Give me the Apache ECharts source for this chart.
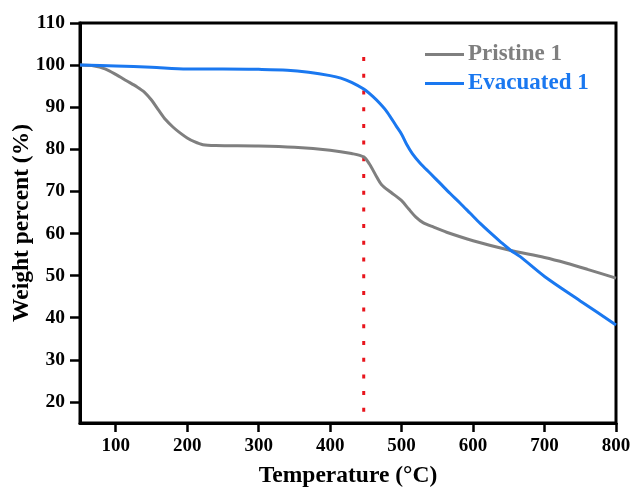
<!DOCTYPE html>
<html>
<head>
<meta charset="utf-8">
<script src="https://cdn.jsdelivr.net/npm/echarts@6/dist/echarts.min.js"></script>
<style>
  html, body { margin: 0; padding: 0; background: #fff; }
  #chart { width: 633px; height: 489px; }
</style>
</head>
<body>
<div id="chart"></div>
<script>
// TGA curves: temperature (°C) vs. remaining weight (%)
const pristineTemp = [50, 70, 85, 100, 115, 130, 140, 150, 160, 170, 180, 190, 200, 210, 222, 240, 300, 350, 400, 430, 447, 455, 465, 472, 485, 500, 510, 520, 530, 545, 563, 600, 650, 700, 730, 760, 800];
const pristineWeight = [100, 99.8, 99.1, 97.8, 96.3, 94.8, 93.6, 91.7, 89.3, 87.0, 85.3, 83.9, 82.7, 81.8, 81.1, 80.9, 80.8, 80.5, 79.8, 79.0, 78.2, 76.5, 73.5, 71.6, 69.8, 67.8, 65.8, 63.9, 62.6, 61.5, 60.3, 58.3, 56.1, 54.3, 53.0, 51.5, 49.4];

const evacuatedTemp = [50, 100, 150, 200, 250, 300, 340, 370, 400, 415, 430, 447, 460, 470, 480, 493, 500, 507, 515, 526, 540, 554, 568, 582, 596, 610, 624, 638, 652, 666, 700, 750, 800];
const evacuatedWeight = [100, 99.8, 99.5, 99.1, 99.1, 99.0, 98.8, 98.3, 97.5, 96.9, 95.9, 94.3, 92.5, 90.8, 88.8, 85.4, 83.6, 81.2, 79.0, 76.7, 74.3, 71.9, 69.5, 67.2, 64.8, 62.4, 60.2, 58.1, 56.1, 54.5, 49.8, 44.0, 38.3];

// Vertical guide at the onset temperature
const onsetTemp = [447, 447];
const onsetRange = [101.9, 15];

const xTicks = [100, 200, 300, 400, 500, 600, 700, 800];
const yTicks = [20, 30, 40, 50, 60, 70, 80, 90, 100, 110];

const seriesNames = ['Pristine 1', 'Evacuated 1'];
const GRAY = '#7f7f7f';
const BLUE = '#1a78f0';
const FONT = '"Liberation Serif", "Times New Roman", serif';

const zip = (a, b) => a.map((v, i) => [v, b[i]]);

const chart = echarts.init(document.getElementById('chart'), null, { renderer: 'canvas' });

chart.setOption({
  backgroundColor: '#fff',
  animation: false,
  grid: {
    left: 80, right: 17, top: 23, bottom: 66,
    containLabel: false,
    outerBoundsMode: 'none',
    show: true, borderColor: '#000', borderWidth: 3, backgroundColor: 'transparent'
  },
  legend: {
    data: [
      { name: seriesNames[0], textStyle: { color: GRAY } },
      { name: seriesNames[1], textStyle: { color: BLUE } }
    ],
    orient: 'vertical',
    left: 420,
    top: 38,
    itemWidth: 39,
    itemHeight: 3,
    itemGap: 6,
    icon: 'rect',
    textStyle: { fontFamily: FONT, fontWeight: 'bold', fontSize: 23, padding: [0, 0, 0, -1] }
  },
  xAxis: {
    type: 'value',
    min: 50, max: 800,
    name: 'Temperature (°C)',
    nameLocation: 'middle',
    nameGap: 41,
    nameMoveOverlap: false,
    nameTextStyle: { fontFamily: FONT, fontWeight: 'bold', fontSize: 23.5, color: '#000' },
    axisLine: { show: true, onZero: false, lineStyle: { color: '#000', width: 3 } },
    axisTick: { show: true, inside: false, length: 9, customValues: xTicks, lineStyle: { color: '#000', width: 2.5 } },
    axisLabel: { customValues: xTicks, margin: 14, fontFamily: FONT, fontWeight: 'bold', fontSize: 19, color: '#000' },
    splitLine: { show: false }
  },
  yAxis: {
    type: 'value',
    min: 15, max: 110,
    name: 'Weight percent (%)',
    nameLocation: 'middle',
    nameGap: 46,
    nameRotate: 90,
    nameMoveOverlap: false,
    nameTextStyle: { fontFamily: FONT, fontWeight: 'bold', fontSize: 23.5, color: '#000' },
    axisLine: { show: true, onZero: false, lineStyle: { color: '#000', width: 3 } },
    axisTick: { show: true, inside: false, length: 10, customValues: yTicks, lineStyle: { color: '#000', width: 2.5 } },
    axisLabel: { customValues: yTicks, margin: 15, fontFamily: FONT, fontWeight: 'bold', fontSize: 19.5, color: '#000' },
    splitLine: { show: false }
  },
  series: [
    {
      name: 'onset',
      type: 'line',
      data: zip(onsetTemp, onsetRange),
      showSymbol: false,
      silent: true,
      z: 1,
      lineStyle: { color: '#e8141c', width: 3, type: [4, 12.7] }
    },
    {
      name: seriesNames[0],
      type: 'line',
      data: zip(pristineTemp, pristineWeight),
      smooth: 0.3,
      showSymbol: false,
      color: GRAY,
      z: 3,
      lineStyle: { color: GRAY, width: 3 }
    },
    {
      name: seriesNames[1],
      type: 'line',
      data: zip(evacuatedTemp, evacuatedWeight),
      smooth: 0.3,
      showSymbol: false,
      color: BLUE,
      z: 4,
      lineStyle: { color: BLUE, width: 3 }
    }
  ]
});
</script>
</body>
</html>
